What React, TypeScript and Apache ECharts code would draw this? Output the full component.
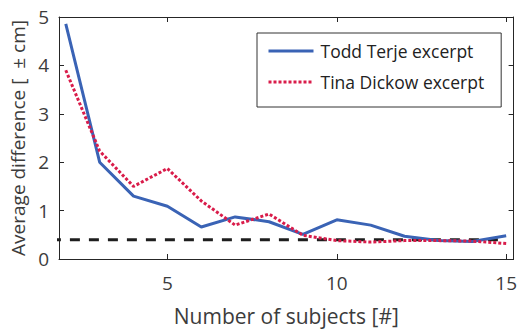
import React, { useEffect, useRef } from "react";
import * as echarts from "echarts";

// Number of subjects pooled in the average
const subjects = [2, 3, 4, 5, 6, 7, 8, 9, 10, 11, 12, 13, 14, 15];
// Average difference for each excerpt (± cm)
const toddTerje = [4.86, 2.0, 1.3, 1.09, 0.66, 0.87, 0.77, 0.51, 0.81, 0.7, 0.47, 0.38, 0.36, 0.48];
const tinaDickow = [3.9, 2.23, 1.5, 1.87, 1.2, 0.7, 0.93, 0.49, 0.38, 0.35, 0.38, 0.38, 0.37, 0.32];
// Reference level drawn as a dashed line
const thresholdValue = 0.4;
const thresholdSpan = [1, 15];
const xTicks = [5, 10, 15];

const FONT = "'Open Sans', 'Noto Sans', sans-serif";
const TEXT = "#3c3c3c";
const AXIS = "#262626";

export default function App() {
  const ref = useRef<HTMLDivElement>(null);

  useEffect(() => {
    if (!ref.current) return;
    const chart = echarts.init(ref.current, undefined, { renderer: "svg" });

    const pair = (ys: number[]) => subjects.map((x, i) => [x, ys[i]]);

    const boxAxisX = (position: "bottom" | "top", labels: boolean) => ({
      type: "value" as const,
      position,
      min: 1.8,
      max: 15.22,
      splitLine: { show: false },
      axisLine: { show: true, onZero: false, lineStyle: { color: AXIS, width: 1 } },
      axisTick: { show: true, inside: true, length: 5, customValues: xTicks, lineStyle: { color: AXIS } },
      axisLabel: {
        show: labels,
        customValues: xTicks,
        color: TEXT,
        fontFamily: FONT,
        fontSize: 19,
        margin: 14,
      },
    });

    const boxAxisY = (position: "left" | "right", labels: boolean) => ({
      type: "value" as const,
      position,
      min: 0,
      max: 5,
      interval: 1,
      splitLine: { show: false },
      axisLine: { show: true, onZero: false, lineStyle: { color: AXIS, width: 1 } },
      axisTick: { show: true, inside: true, length: 5, lineStyle: { color: AXIS } },
      axisLabel: {
        show: labels,
        color: TEXT,
        fontFamily: FONT,
        fontSize: 19,
        margin: 10,
      },
    });

    chart.setOption({
      animation: false,
      grid: { left: 57, right: 1, top: 17, bottom: 71, containLabel: false },
      xAxis: [
        {
          ...boxAxisX("bottom", true),
          name: "Number of subjects [#]",
          nameLocation: "middle",
          nameGap: 46,
          nameTextStyle: { color: TEXT, fontFamily: FONT, fontSize: 21 },
        },
        boxAxisX("top", false),
      ],
      yAxis: [
        {
          ...boxAxisY("left", true),
          name: "Average difference [  ± cm]",
          nameLocation: "middle",
          nameGap: 32,
          nameTextStyle: { color: TEXT, fontFamily: FONT, fontSize: 19 },
        },
        boxAxisY("right", false),
      ],
      legend: {
        data: ["Todd Terje excerpt", "Tina Dickow excerpt"],
        orient: "vertical",
        left: 257,
        top: 33,
        padding: [9, 17, 16, 10],
        itemWidth: 45,
        itemHeight: 14,
        itemGap: 13,
        itemStyle: { opacity: 0 },
        lineStyle: { width: 3 },
        borderColor: "#333",
        borderWidth: 1,
        borderRadius: 0,
        backgroundColor: "#fff",
        textStyle: { color: "#222", fontFamily: FONT, fontSize: 17.5, padding: [0, 0, 0, 2] },
      },
      series: [
        {
          name: "Todd Terje excerpt",
          type: "line",
          data: pair(toddTerje),
          symbol: "none",
          lineStyle: { color: "#3a63b5", width: 3 },
          itemStyle: { color: "#3a63b5" },
          z: 3,
        },
        {
          name: "Tina Dickow excerpt",
          type: "line",
          data: pair(tinaDickow),
          symbol: "none",
          lineStyle: { color: "#d91c4a", width: 3, type: [3, 2] },
          itemStyle: { color: "#d91c4a" },
          z: 4,
        },
        {
          name: "threshold",
          type: "line",
          data: thresholdSpan.map((x) => [x, thresholdValue]),
          symbol: "none",
          clip: true,
          lineStyle: { color: "#1e1e1e", width: 3, type: [10, 9] },
          z: 2,
        },
      ],
    });

    return () => chart.dispose();
  }, []);

  return <div ref={ref} style={{ width: 520, height: 331, position: "absolute", left: 0, top: 0 }} />;
}
